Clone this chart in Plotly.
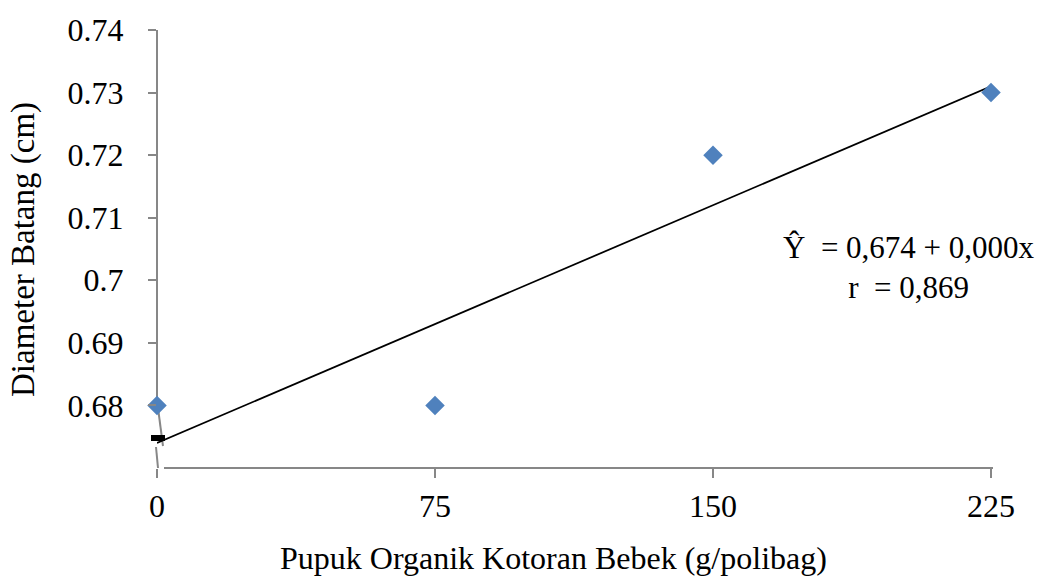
import numpy as np
import plotly.graph_objects as go

# ---- data ----
dose = [0, 75, 150, 225]                    # g/polibag
diameter = [0.68, 0.68, 0.72, 0.73]         # cm
x_ticks = [0, 75, 150, 225]
y_ticks = [0.68, 0.69, 0.70, 0.71, 0.72, 0.73, 0.74]
y_tick_text = ["0.68", "0.69", "0.7", "0.71", "0.72", "0.73", "0.74"]
x_range = [0, 225]
y_range = [0.67, 0.74]
eq_text = "Ŷ\u00a0\u00a0= 0,674 + 0,000x<br>r\u00a0\u00a0= 0,869"
x_title = "Pupuk Organik Kotoran Bebek (g/polibag)"
y_title = "Diameter Batang (cm)"

# regression line from the data
slope, intercept = np.polyfit(dose, diameter, 1)
fit_x = [min(dose), max(dose)]
fit_y = [intercept + slope * v for v in fit_x]

FONT = "Liberation Serif, Times New Roman, serif"
AXC = "#878787"
W, H = 1046, 581
ML, MR, MT, MB = 157, 55, 25, 113
PW = W - ML - MR

# paper position of the lowest labelled tick (start of the broken y axis)
y_low = (y_ticks[0] - y_range[0]) / (y_range[1] - y_range[0])

fig = go.Figure()
fig.add_trace(go.Scatter(x=fit_x, y=fit_y, mode="lines",
                         line=dict(color="black", width=1.75),
                         hoverinfo="skip", showlegend=False, cliponaxis=False))
fig.add_trace(go.Scatter(x=dose, y=diameter, mode="markers",
                         marker=dict(symbol="diamond", size=15, color="#4F81BD",
                                     line=dict(width=0)),
                         showlegend=False, cliponaxis=False))

def pix(x0, x1, y0, y1, **kw):
    d = dict(xref="paper", yref="paper", xsizemode="pixel", ysizemode="pixel",
             xanchor=0, yanchor=0, x0=x0, x1=x1, y0=y0, y1=y1, layer="below")
    d.update(kw)
    return d

shapes = [
    # y axis (broken near the bottom)
    dict(type="line", xref="paper", yref="paper", x0=0, x1=0, y0=y_low, y1=1,
         line=dict(color=AXC, width=2), layer="below"),
    pix(1, 6, 60, 22, type="line", line=dict(color=AXC, width=2)),
    pix(-1, 1, 21, 0, type="line", line=dict(color=AXC, width=2)),
    pix(-6, 8, 27, 33, type="rect", fillcolor="black", line=dict(width=0)),
    # x axis
    dict(type="line", xref="paper", yref="paper", x0=7 / PW, x1=1 + 2 / PW,
         y0=0, y1=0, line=dict(color=AXC, width=2), layer="below"),
]

fig.update_layout(
    width=W, height=H,
    margin=dict(l=ML, r=MR, t=MT, b=MB),
    paper_bgcolor="white", plot_bgcolor="white",
    font=dict(family=FONT, size=31, color="black"),
    shapes=shapes,
    xaxis=dict(range=x_range, tickvals=x_ticks, ticktext=[str(v) for v in x_ticks],
               showgrid=False, zeroline=False, showline=False,
               ticks="outside", ticklen=9, tickwidth=2, tickcolor=AXC,
               ticklabelstandoff=1, tickfont=dict(family=FONT, size=32)),
    yaxis=dict(range=y_range, tickvals=y_ticks, ticktext=y_tick_text,
               showgrid=False, zeroline=False, showline=False,
               ticks="outside", ticklen=8, tickwidth=2, tickcolor=AXC,
               ticklabelstandoff=18, tickfont=dict(family=FONT, size=32)),
    annotations=[
        dict(text=eq_text, xref="paper", yref="paper", x=0.9017, y=0.458,
             xanchor="center", yanchor="middle", align="center", showarrow=False,
             font=dict(family=FONT, size=31)),
        dict(text=x_title, xref="paper", yref="paper", x=0.476, y=-0.205,
             xanchor="center", yanchor="middle", showarrow=False,
             font=dict(family=FONT, size=32)),
        dict(text=y_title, xref="paper", yref="paper", x=-0.1607, y=0.5,
             xanchor="center", yanchor="middle", textangle=-90, showarrow=False,
             font=dict(family=FONT, size=33)),
    ],
)

fig.write_html("out.html")
